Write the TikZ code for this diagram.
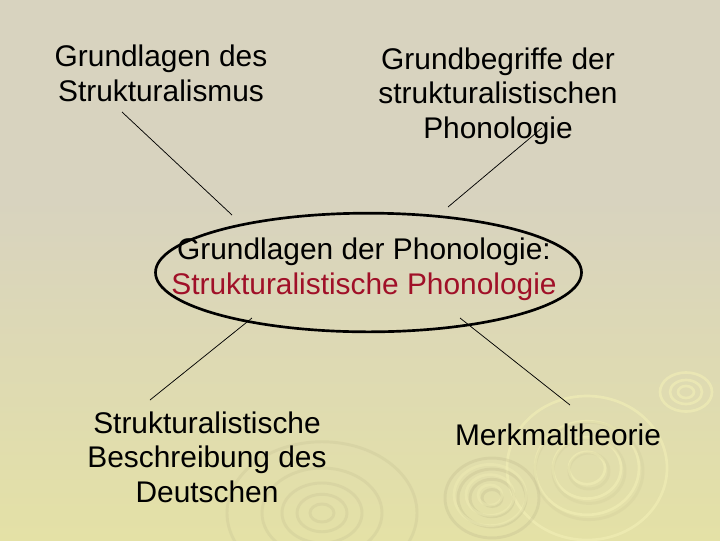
\documentclass[tikz,border=0pt]{standalone}
\usepackage{fontspec}
\setmainfont{Liberation Sans}
\usetikzlibrary{shapes.geometric}
\definecolor{bgtop}{RGB}{216,211,191}
\definecolor{bgmid}{RGB}{218,213,182}
\definecolor{bgbot}{RGB}{228,225,166}
\definecolor{ripdark}{RGB}{195,190,145}
\definecolor{riplight}{RGB}{242,239,182}
\definecolor{redtxt}{RGB}{160,16,40}
\tikzset{
  lbl/.style={inner sep=0pt, align=center, font=\fontsize{22.4}{26}\selectfont},
  conn/.style={draw=black, line width=0.55pt},
  ripd/.style={draw=ripdark, line width=2.2pt, opacity=0.35},
  ripl/.style={draw=riplight, line width=2pt, opacity=0.6},
}
\begin{document}
\begin{tikzpicture}[x=0.75pt,y=-0.75pt]
\useasboundingbox (0,0) rectangle (720,540);
\fill[bgtop] (0,0) rectangle (720,200);
\shade[top color=bgtop, middle color=bgmid, bottom color=bgbot] (0,199) rectangle (720,540);
% ripples
\begin{scope}
  \foreach \r in {18,34,52,80} {\draw[ripl] (587,468) ellipse ({\r} and {0.9*\r});}
  \foreach \r in {20,36,54} {\draw[ripd, opacity=0.18] (589,471) ellipse ({\r} and {0.9*\r});}
  \foreach \r in {8,16,26} {\draw[ripl] (686,392) ellipse ({\r} and {0.75*\r});}
  \foreach \r in {10,22,34,47} {\draw[ripd] (492,498) ellipse ({\r} and {0.85*\r});}
  \foreach \r in {12,24,36} {\draw[ripl, opacity=0.4] (490,495) ellipse ({\r} and {0.85*\r});}
  \foreach \r in {12,25,40,60,95} {\draw[ripd, opacity=0.28] (322,513) ellipse ({\r} and {0.75*\r});}
\end{scope}
% texts
\node[lbl] (n1) at (161,73) {Grundlagen des\\Strukturalismus};
\node[lbl] (n2) at (498,96) {Grundbegriffe der\\strukturalistischen\\Phonologie};
\node[lbl] (n3) at (207,457) {Strukturalistische\\Beschreibung des\\Deutschen};
\node[lbl] (n4) at (558,435) {Merkmaltheorie};
\node[draw=black, line width=2pt, ellipse, minimum width=319.5pt, minimum height=89pt, inner sep=0pt] (c) at (368.5,272.5) {};
\node[lbl] (ct) at (364,269) {Grundlagen der Phonologie:\\\textcolor{redtxt}{Strukturalistische Phonologie}};
% connectors
\coordinate (a1) at (122,112); \coordinate (a2) at (232,215);
\coordinate (b1) at (542,128); \coordinate (b2) at (448,207);
\coordinate (e1) at (252,318); \coordinate (e2) at (150,400);
\coordinate (d1) at (460,318); \coordinate (d2) at (570,405);
\draw[conn] (a1) -- (a2);
\draw[conn] (b1) -- (b2);
\draw[conn] (e1) -- (e2);
\draw[conn] (d1) -- (d2);
\end{tikzpicture}
\end{document}
